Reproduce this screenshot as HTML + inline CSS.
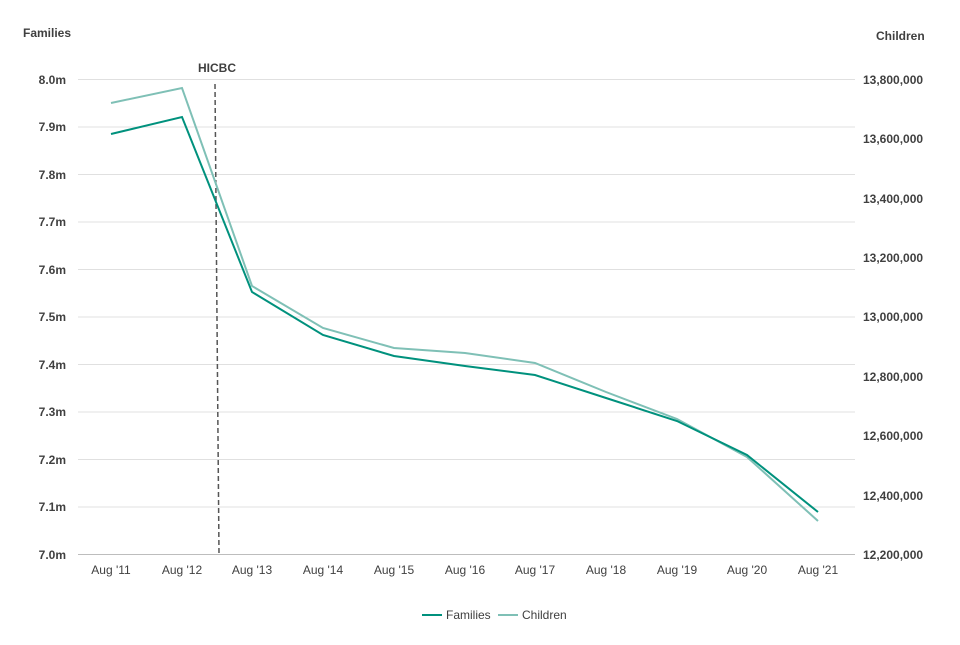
<!DOCTYPE html>
<html><head><style>
body{margin:0;background:#fff;}
svg text{font-family:"Liberation Sans",Arial,sans-serif;fill:#404040;}
</style></head><body>
<svg width="960" height="640" viewBox="0 0 960 640">
<g stroke="#e0e0e0" stroke-width="1">
<line x1="78" x2="855" y1="79.5" y2="79.5"/>
<line x1="78" x2="855" y1="127" y2="127"/>
<line x1="78" x2="855" y1="174.5" y2="174.5"/>
<line x1="78" x2="855" y1="222" y2="222"/>
<line x1="78" x2="855" y1="269.5" y2="269.5"/>
<line x1="78" x2="855" y1="317" y2="317"/>
<line x1="78" x2="855" y1="364.5" y2="364.5"/>
<line x1="78" x2="855" y1="412" y2="412"/>
<line x1="78" x2="855" y1="459.5" y2="459.5"/>
<line x1="78" x2="855" y1="507" y2="507"/>
</g>
<line x1="78" x2="855" y1="554.5" y2="554.5" stroke="#bdbdbd"/>
<g font-size="12" font-weight="bold" text-anchor="end">
<text x="66" y="84">8.0m</text><text x="66" y="131">7.9m</text><text x="66" y="179">7.8m</text>
<text x="66" y="226">7.7m</text><text x="66" y="274">7.6m</text><text x="66" y="321">7.5m</text>
<text x="66" y="369">7.4m</text><text x="66" y="416">7.3m</text><text x="66" y="464">7.2m</text>
<text x="66" y="511">7.1m</text><text x="66" y="559">7.0m</text>
</g>
<g font-size="12" font-weight="bold" text-anchor="start">
<text x="863" y="84">13,800,000</text><text x="863" y="143">13,600,000</text>
<text x="863" y="203">13,400,000</text><text x="863" y="262">13,200,000</text>
<text x="863" y="321">13,000,000</text><text x="863" y="381">12,800,000</text>
<text x="863" y="440">12,600,000</text><text x="863" y="500">12,400,000</text>
<text x="863" y="559">12,200,000</text>
</g>
<text x="23" y="37" font-size="12" font-weight="bold">Families</text>
<text x="876" y="40" font-size="12" font-weight="bold">Children</text>
<g font-size="12" text-anchor="middle">
<text x="111" y="574">Aug '11</text><text x="182" y="574">Aug '12</text><text x="252" y="574">Aug '13</text>
<text x="323" y="574">Aug '14</text><text x="394" y="574">Aug '15</text><text x="465" y="574">Aug '16</text>
<text x="535" y="574">Aug '17</text><text x="606" y="574">Aug '18</text><text x="677" y="574">Aug '19</text>
<text x="747" y="574">Aug '20</text><text x="818" y="574">Aug '21</text>
</g>
<line x1="215" y1="84" x2="219" y2="554" stroke="#555" stroke-width="1.5" stroke-dasharray="5,3"/>
<text x="217" y="72" font-size="12" font-weight="bold" text-anchor="middle">HICBC</text>
<polyline fill="none" stroke="#7fc0b6" stroke-width="2" points="111,103 182,88 252,286 323,328 394,348 465,353 535,363 606,392 677,419 747,457 818,521"/>
<polyline fill="none" stroke="#00917d" stroke-width="2" points="111,134 182,117 252,292 323,335 394,356 465,366 535,375 606,398 677,421 747,455 818,512"/>
<line x1="422" x2="442" y1="615" y2="615" stroke="#00917d" stroke-width="2"/>
<text x="446" y="619" font-size="12">Families</text>
<line x1="498" x2="518" y1="615" y2="615" stroke="#7fc0b6" stroke-width="2"/>
<text x="522" y="619" font-size="12">Children</text>
</svg>
</body></html>
